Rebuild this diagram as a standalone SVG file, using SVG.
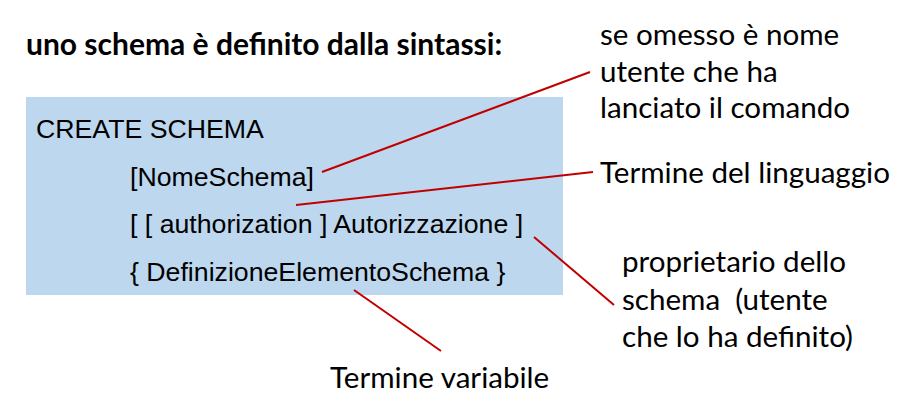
<svg xmlns="http://www.w3.org/2000/svg" width="911" height="410" viewBox="0 0 911 410">
<style>
.code{font-family:"Liberation Sans",Arial,sans-serif;font-size:26.7px;fill:#000}
.lab{font-family:Lato,"Open Sans",sans-serif;font-size:29.6px;fill:#000;white-space:pre}
.title{font-family:Lato,"Open Sans",sans-serif;font-size:30px;font-weight:bold;fill:#000}
.ln{stroke:#c00000;stroke-width:2;fill:none}
</style>
<rect width="911" height="410" fill="#fff"/>
<g id="title"><text class="title" x="26" y="55">uno schema è definito dalla sintassi:</text></g>
<g id="syntax">
<rect x="26" y="97" width="537" height="198" fill="#bdd7ee"/>
<text class="code" x="36" y="138">CREATE SCHEMA</text>
<text class="code" x="130" y="186">[NomeSchema]</text>
<text class="code" x="130" y="233">[ [ authorization ] Autorizzazione ]</text>
<text class="code" x="130" y="281">{ DefinizioneElementoSchema }</text>
</g>
<g id="note-nome">
<text class="lab" x="600" y="45">se omesso è nome</text>
<text class="lab" x="600" y="82">utente che ha</text>
<text class="lab" x="600" y="118">lanciato il comando</text>
</g>
<g id="note-linguaggio"><text class="lab" x="600" y="183">Termine del linguaggio</text></g>
<g id="note-proprietario">
<text class="lab" x="622" y="272">proprietario dello</text>
<text class="lab" x="622" y="310" xml:space="preserve">schema  (utente</text>
<text class="lab" x="622" y="347">che lo ha definito)</text>
</g>
<g id="note-variabile"><text class="lab" x="330" y="388">Termine variabile</text></g>
<g id="connectors">
<line class="ln" x1="322" y1="172" x2="590" y2="72"/>
<line class="ln" x1="296" y1="205" x2="593" y2="172"/>
<line class="ln" x1="534" y1="237" x2="614" y2="305"/>
<line class="ln" x1="354" y1="290" x2="441" y2="351"/>
</g>
</svg>
